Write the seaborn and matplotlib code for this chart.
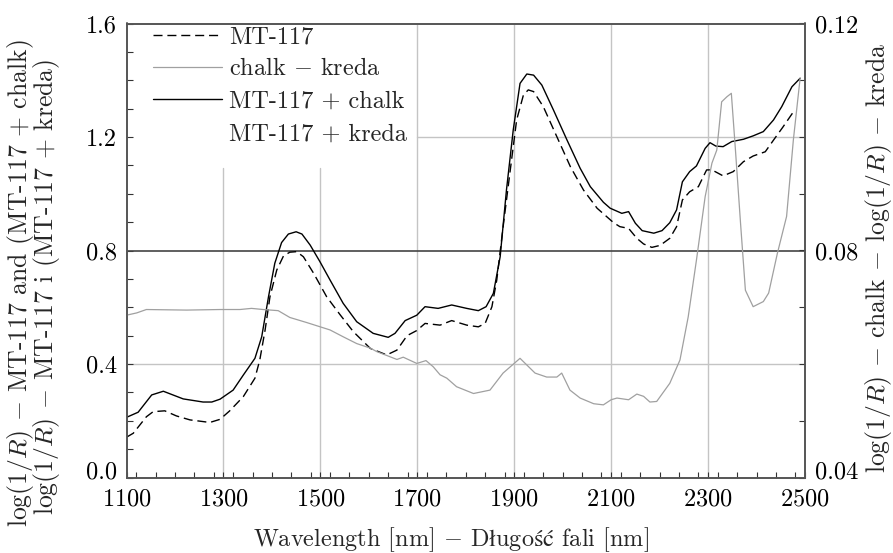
import matplotlib
matplotlib.use("Agg")
import matplotlib.pyplot as plt
import matplotlib.transforms as mtransforms
import seaborn as sns
from matplotlib.lines import Line2D
from matplotlib.ticker import MultipleLocator, FormatStrFormatter

# ---- data ----
wl_mix = [1100, 1124, 1152, 1176, 1217, 1258, 1276, 1293, 1320, 1341, 1365, 1379, 1393,
          1406, 1420, 1434, 1450, 1462, 1479, 1499, 1520, 1547, 1575, 1609, 1640, 1654,
          1675, 1699, 1716, 1743, 1771, 1802, 1826, 1842, 1857, 1871, 1884, 1898, 1912,
          1926, 1940, 1957, 1981, 2009, 2036, 2057, 2084, 2098, 2122, 2136, 2150, 2164,
          2188, 2205, 2221, 2235, 2247, 2262, 2276, 2294, 2304, 2316, 2331, 2349, 2373,
          2393, 2414, 2435, 2452, 2473, 2490]
val_mix = [0.212, 0.230, 0.291, 0.304, 0.277, 0.266, 0.266, 0.276, 0.308, 0.361, 0.420,
           0.496, 0.637, 0.755, 0.828, 0.858, 0.866, 0.858, 0.819, 0.761, 0.696, 0.614,
           0.549, 0.508, 0.494, 0.508, 0.553, 0.572, 0.602, 0.596, 0.608, 0.596, 0.588,
           0.602, 0.649, 0.778, 1.013, 1.225, 1.389, 1.422, 1.418, 1.383, 1.295, 1.189,
           1.090, 1.025, 0.970, 0.949, 0.931, 0.937, 0.896, 0.870, 0.861, 0.870, 0.898,
           0.943, 1.042, 1.078, 1.098, 1.160, 1.180, 1.168, 1.166, 1.184, 1.192, 1.204,
           1.219, 1.260, 1.307, 1.377, 1.407]

wl_mt = [1100, 1114, 1141, 1155, 1179, 1203, 1231, 1272, 1293, 1313, 1341, 1365, 1375,
         1386, 1396, 1410, 1424, 1437, 1451, 1465, 1486, 1513, 1541, 1568, 1603, 1637,
         1658, 1679, 1699, 1716, 1747, 1771, 1802, 1826, 1840, 1854, 1864, 1878, 1891,
         1905, 1919, 1929, 1940, 1960, 1988, 2016, 2043, 2071, 2105, 2118, 2136, 2153,
         2167, 2184, 2201, 2221, 2235, 2247, 2262, 2280, 2297, 2308, 2331, 2352, 2373,
         2393, 2418, 2435, 2454, 2475]
val_mt = [0.142, 0.156, 0.214, 0.232, 0.235, 0.217, 0.203, 0.194, 0.205, 0.235, 0.285,
          0.350, 0.414, 0.520, 0.637, 0.731, 0.781, 0.794, 0.796, 0.778, 0.720, 0.637,
          0.573, 0.514, 0.455, 0.432, 0.449, 0.500, 0.518, 0.543, 0.537, 0.553, 0.537,
          0.531, 0.543, 0.602, 0.696, 0.896, 1.072, 1.260, 1.348, 1.366, 1.360, 1.307,
          1.201, 1.095, 1.013, 0.949, 0.898, 0.884, 0.878, 0.843, 0.823, 0.811, 0.818,
          0.843, 0.884, 0.978, 1.007, 1.025, 1.084, 1.084, 1.063, 1.078, 1.113, 1.133,
          1.148, 1.189, 1.234, 1.286]

wl_chalk = [1100, 1121, 1141, 1224, 1293, 1334, 1358, 1382, 1413, 1437, 1472, 1520, 1547,
            1575, 1603, 1616, 1658, 1671, 1699, 1718, 1733, 1747, 1761, 1781, 1816, 1850,
            1877, 1912, 1943, 1967, 1988, 1998, 2015, 2036, 2064, 2084, 2100, 2112, 2136,
            2153, 2167, 2180, 2194, 2221, 2242, 2259, 2276, 2294, 2308, 2318, 2328, 2339,
            2348, 2356, 2367, 2377, 2393, 2414, 2425, 2443, 2462, 2476, 2490]
val_chalk = [0.0686, 0.0690, 0.0696, 0.0695, 0.0696, 0.0696, 0.0698, 0.0696, 0.0694,
             0.0682, 0.0673, 0.0660, 0.0648, 0.0636, 0.0628, 0.0622, 0.0608, 0.0612,
             0.0601, 0.0606, 0.0595, 0.0581, 0.0575, 0.0560, 0.0548, 0.0554, 0.0584,
             0.0610, 0.0584, 0.0577, 0.0577, 0.0584, 0.0554, 0.0540, 0.0530, 0.0528,
             0.0537, 0.0540, 0.0537, 0.0547, 0.0543, 0.0533, 0.0534, 0.0566, 0.0607,
             0.0683, 0.0783, 0.0895, 0.0954, 0.0977, 0.1062, 0.1071, 0.1077, 0.0983,
             0.0848, 0.0730, 0.0701, 0.0710, 0.0725, 0.0795, 0.0860, 0.0995, 0.1104]

x_ticks = [1100, 1300, 1500, 1700, 1900, 2100, 2300, 2500]
left_ticks = [0.0, 0.4, 0.8, 1.2, 1.6]
right_ticks = [0.04, 0.08, 0.12]

legend_labels = ["MT-117", "chalk $-$ kreda", "MT-117 + chalk", "MT-117 + kreda"]

# ---- style ----
sns.set_theme(style="white")
plt.rcParams["font.family"] = ["cmr10", "Liberation Serif", "DejaVu Serif"]
plt.rcParams["mathtext.fontset"] = "cm"
plt.rcParams["axes.formatter.use_mathtext"] = True
plt.rcParams["axes.unicode_minus"] = False
FS = 17.5
FS_LAB = 18.5

W, H = 893, 553
fig = plt.figure(figsize=(W / 100, H / 100), dpi=100)
x0, x1, ytop, ybot = 126.5, 805.0, 23.5, 477.5
ax = fig.add_axes([x0 / W, 1 - ybot / H, (x1 - x0) / W, (ybot - ytop) / H])
ax2 = ax.twinx()

grid_c = "#c4c4c4"
for xv in [1300, 1500]:
    ax.axvline(xv, ymin=0, ymax=1.09 / 1.6, color=grid_c, lw=1.0, zorder=0)
for xv in [1700, 1900, 2100, 2300]:
    ax.axvline(xv, color=grid_c, lw=1.0, zorder=0)
ax.axhline(0.4, color=grid_c, lw=1.0, zorder=0)
ax.axhline(1.2, xmin=(1700 - 1100) / 1400, xmax=1, color=grid_c, lw=1.0, zorder=0)
ax.axhline(0.8, color="#444444", lw=1.2, zorder=1)

dash = (0, (6.5, 3.5))
sns.lineplot(x=wl_mt, y=val_mt, ax=ax, color="black", lw=1.0, linestyle=dash,
             estimator=None, sort=False, zorder=3)
sns.lineplot(x=wl_mix, y=val_mix, ax=ax, color="black", lw=1.0,
             estimator=None, sort=False, zorder=3)
sns.lineplot(x=wl_chalk, y=val_chalk, ax=ax2, color="#a0a0a0", lw=0.9,
             estimator=None, sort=False, zorder=2)

ax.set_xlim(1100, 2500)
ax.set_ylim(0, 1.6)
ax2.set_ylim(0.04, 0.12)

ax.set_xticks(x_ticks)
ax.xaxis.set_minor_locator(MultipleLocator(40))
ax.set_yticks(left_ticks)
ax.yaxis.set_minor_locator(MultipleLocator(0.1))
ax.yaxis.set_major_formatter(FormatStrFormatter("%.1f"))
ax2.set_yticks(right_ticks)
ax2.yaxis.set_minor_locator(MultipleLocator(0.01))
ax2.yaxis.set_major_formatter(FormatStrFormatter("%.2f"))

common = dict(which="both", direction="in", length=4, width=0.8, labelsize=FS,
              colors="#333333", labelcolor="black")
ax.tick_params(axis="x", bottom=True, top=False, pad=8, **common)
ax.tick_params(axis="y", left=True, right=False, pad=7, **common)
ax2.tick_params(axis="y", right=True, left=False, pad=7, **common)
ax.set_xlabel("")
ax.set_ylabel("")
ax2.set_ylabel("")

for a in (ax, ax2):
    for s in a.spines.values():
        s.set_color("#555555")
        s.set_linewidth(1.2)

# raise the lowest y tick labels a little (as in the reference)
shift = mtransforms.ScaledTranslation(0, 8 / 100, fig.dpi_scale_trans)
t0 = ax.yaxis.get_major_ticks()[0]
t0.label1.set_transform(t0.label1.get_transform() + shift)
r0 = ax2.yaxis.get_major_ticks()[0]
r0.label2.set_transform(r0.label2.get_transform() + shift)

# legend
handles = [
    Line2D([], [], color="black", lw=1.0, linestyle=dash),
    Line2D([], [], color="#a0a0a0", lw=0.9),
    Line2D([], [], color="black", lw=1.0),
    Line2D([], [], color="none", lw=0),
]
leg = fig.legend(handles, legend_labels, loc="upper left",
                 bbox_to_anchor=(153 / W, 1 - 26 / H), frameon=False,
                 fontsize=FS, handlelength=2.84, handletextpad=0.3,
                 labelspacing=0.42, borderpad=0, borderaxespad=0)

# axis labels
fig.text(21 / W, 1 - 283 / H, r"$\log(1/R)$ $-$ MT-117 and (MT-117 + chalk)",
         rotation=90, ha="center", va="center", fontsize=FS_LAB)
fig.text(47 / W, 1 - 287 / H, r"$\log(1/R)$ $-$ MT-117 i (MT-117 + kreda)",
         rotation=90, ha="center", va="center", fontsize=FS_LAB)
fig.text(879 / W, 1 - 258 / H,
         r"$\log(1/R)$ $-$ chalk $-$ $\log(1/R)$ $-$ kreda",
         rotation=90, ha="center", va="center", fontsize=FS_LAB)
fig.text(451 / W, 1 - 540 / H,
         r"Wavelength [nm] $-$ D$\mathrm{ł}$ugo$\mathrm{ść}$ fali [nm]",
         ha="center", va="center", fontsize=FS)

fig.savefig("out.png", dpi=100)
